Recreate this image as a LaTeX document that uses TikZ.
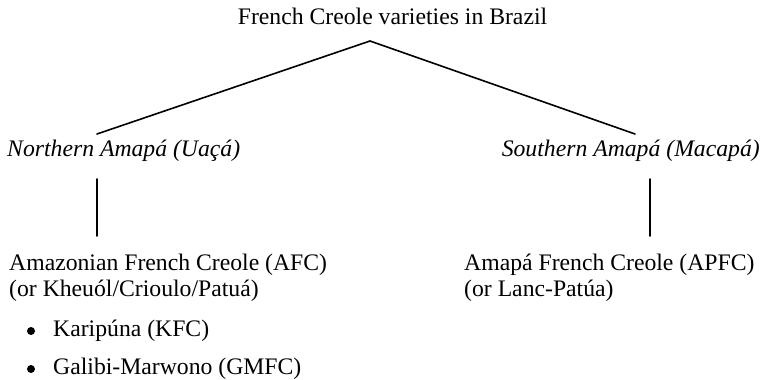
\documentclass[tikz,border=0pt]{standalone}
\usepackage{fontspec}
\setmainfont{Liberation Serif}
\begin{document}
\begin{tikzpicture}[x=1pt, y=1pt, line join=round, line cap=round, font=\fontsize{23.7}{26}\selectfont]
	\tikzset{lbl/.style={inner sep=0pt, align=left}, branch/.style={line width=1.6pt}}
	\useasboundingbox (0,0) rectangle (763,380);
	% labels
	\node (title) at (392.5,355) [lbl, anchor=base]{French Creole varieties in Brazil};
	\node (north) at (7,223) [lbl, anchor=base west]{\itshape Northern Amapá (Uaçá)};
	\node (south) at (760,223) [lbl, anchor=base east]{\itshape Southern Amapá (Macapá)};
	\node (afc) at (9,83) [lbl, anchor=base west]{Amazonian French Creole (AFC)\\(or Kheuól/Crioulo/Patuá)};
	\node (apfc) at (464,83) [lbl, anchor=base west]{Amapá French Creole (APFC)\\(or Lanc-Patúa)};
	\node (kfc) at (53,43) [lbl, anchor=base west]{Karipúna (KFC)};
	\node (gmfc) at (53,5) [lbl, anchor=base west]{Galibi-Marwono (GMFC)};
	% branches
	\coordinate (apex) at (370,339);
	\coordinate (nfoot) at (97,246);
	\coordinate (sfoot) at (635,246);
	\coordinate (ntop) at (97,201); \coordinate (nbot) at (97,144);
	\coordinate (stop) at (650,201); \coordinate (sbot) at (650,144);
	\draw[branch] (nfoot) -- (apex) -- (sfoot);
	\draw[branch] (ntop) -- (nbot) (stop) -- (sbot);
	\fill ([xshift=-22pt,yshift=6pt]kfc.base west) circle (4pt)
		([xshift=-22pt,yshift=6pt]gmfc.base west) circle (4pt);
\end{tikzpicture}
\end{document}
